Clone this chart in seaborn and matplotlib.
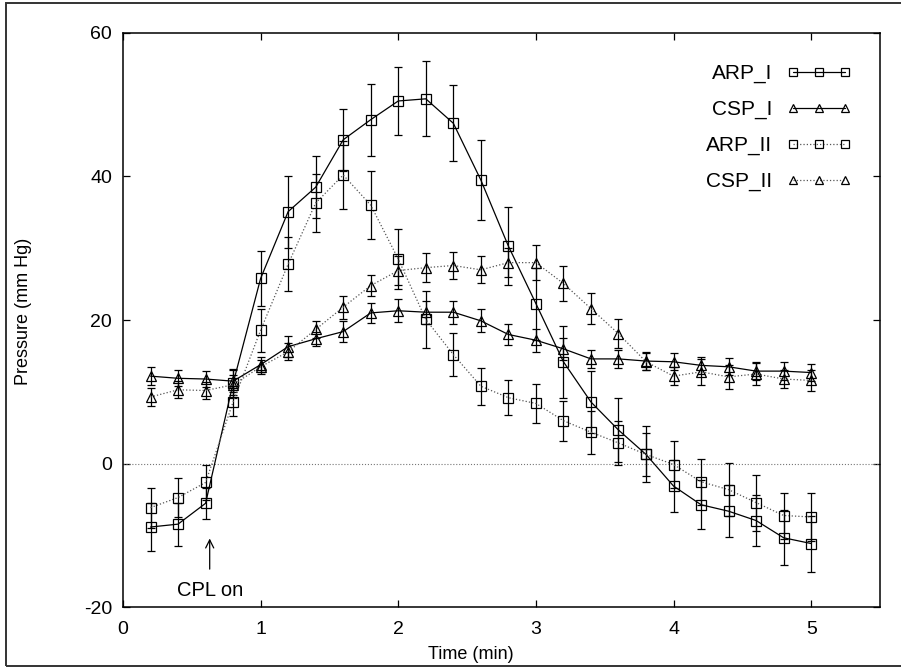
import pandas as pd
import matplotlib
matplotlib.use("Agg")
import matplotlib.pyplot as plt
from matplotlib.patches import Rectangle
import seaborn as sns

# time points (min)
time = [0.2, 0.4, 0.6, 0.8, 1.0, 1.2, 1.4, 1.6, 1.8, 2.0, 2.2, 2.4, 2.6,
        2.8, 3.0, 3.2, 3.4, 3.6, 3.8, 4.0, 4.2, 4.4, 4.6, 4.8, 5.0]

arp_1 = [-8.8, -8.4, -5.5, 11.2, 25.8, 35.1, 38.5, 45.1, 47.9, 50.5, 50.8, 47.4, 39.5,
         30.3, 22.3, 14.2, 8.6, 4.7, 1.3, -3.1, -5.7, -6.6, -7.9, -10.3, -11.1]
arp_1_err = [3.3, 3.0, 2.2, 2.0, 3.8, 5.0, 4.3, 4.3, 5.0, 4.7, 5.2, 5.3, 5.6,
             5.4, 5.0, 5.0, 4.3, 4.4, 3.9, 3.6, 3.4, 3.6, 3.5, 3.8, 3.9]

csp_1 = [12.2, 11.9, 11.8, 11.5, 13.8, 16.3, 17.4, 18.4, 21.0, 21.3, 21.1, 21.1, 19.9,
         18.0, 17.2, 16.0, 14.6, 14.6, 14.3, 14.2, 13.7, 13.5, 12.9, 12.9, 12.7]
csp_1_err = [1.3, 1.1, 1.1, 1.5, 1.0, 1.5, 1.0, 1.5, 1.4, 1.6, 1.6, 1.6, 1.6,
             1.4, 1.6, 1.5, 1.2, 1.2, 1.2, 1.2, 1.2, 1.2, 1.2, 1.2, 1.2]

arp_2 = [-6.1, -4.7, -2.6, 8.6, 18.6, 27.8, 36.3, 40.2, 36.0, 28.5, 20.1, 15.2, 10.8,
         9.2, 8.4, 6.0, 4.4, 2.9, 1.3, -0.1, -2.5, -3.6, -5.4, -7.2, -7.4]
arp_2_err = [2.8, 2.7, 2.5, 2.0, 3.0, 3.7, 4.0, 4.7, 4.7, 4.2, 4.0, 3.0, 2.6,
             2.4, 2.7, 2.8, 3.0, 3.0, 3.0, 3.3, 3.2, 3.7, 3.9, 3.2, 3.4]

csp_2 = [9.3, 10.3, 10.2, 11.0, 13.5, 15.6, 18.7, 21.8, 24.8, 26.9, 27.3, 27.6, 27.0,
         28.0, 28.0, 25.1, 21.6, 18.1, 14.2, 12.2, 12.8, 12.1, 12.5, 11.8, 11.6]
csp_2_err = [1.3, 1.2, 1.2, 1.4, 1.0, 1.2, 1.2, 1.6, 1.5, 2.0, 2.0, 1.9, 1.9,
             2.0, 2.4, 2.4, 2.2, 2.0, 1.2, 1.3, 1.8, 1.7, 1.5, 1.3, 1.5]

series = [
    ("ARP_I", arp_1, arp_1_err, "s", "-", "black"),
    ("CSP_I", csp_1, csp_1_err, "^", "-", "black"),
    ("ARP_II", arp_2, arp_2_err, "s", ":", "#555555"),
    ("CSP_II", csp_2, csp_2_err, "^", ":", "#555555"),
]

sns.set_theme(style="ticks")
plt.rcParams["font.family"] = ["Liberation Sans", "DejaVu Sans"]
plt.rcParams["axes.unicode_minus"] = False
plt.rcParams["text.color"] = "black"
plt.rcParams["axes.labelcolor"] = "black"

fig = plt.figure(figsize=(9.01, 6.68), dpi=100)
ax = fig.add_axes([0.1365, 0.0906, 0.8402, 0.8604])

# thin frame round the whole figure
fig.patches.append(Rectangle((6 / 901, 2 / 668), 1.0, 1 - 5 / 668,
                             transform=fig.transFigure, fill=False,
                             edgecolor="#333333", lw=1.4))

ax.axhline(0, color="#777777", lw=0.8, ls=":", zorder=1)

for name, vals, err, mk, ls, col in series:
    df = pd.DataFrame({"time": time, "p": vals})
    ax.errorbar(time, vals, yerr=err, fmt="none", ecolor="black",
                elinewidth=0.9, capsize=3.2, capthick=0.9, zorder=2)
    sns.lineplot(data=df, x="time", y="p", ax=ax, label=name, color=col,
                 linestyle=ls, linewidth=0.9, marker=mk, markersize=6.5,
                 markerfacecolor="none", markeredgecolor="black",
                 markeredgewidth=0.9, zorder=3)

ax.set_xlim(0, 5.5)
ax.set_ylim(-20, 60)
ax.set_xticks([0, 1, 2, 3, 4, 5])
ax.set_yticks([-20, 0, 20, 40, 60])
ax.tick_params(direction="in", length=5, width=0.9, top=True, right=True,
               labelsize=14, colors="black")
ax.tick_params(axis="x", pad=10)
ax.tick_params(axis="y", pad=8)
for s in ax.spines.values():
    s.set_linewidth(1.1)
    s.set_color("black")

ax.set_xlabel("Time (min)", fontsize=13)
ax.set_ylabel("Pressure (mm Hg)", fontsize=13)
ax.xaxis.set_label_coords(0.46, -0.067)
ax.yaxis.set_label_coords(-0.120, 0.516)

ax.annotate("CPL on", xy=(0.63, -10.4), xytext=(0.63, -17.6),
            ha="center", va="center", fontsize=14.5,
            arrowprops=dict(arrowstyle="->", lw=0.9, color="black",
                            shrinkA=6, shrinkB=0))

ax.legend(loc="upper right", frameon=False, markerfirst=False, numpoints=3,
          handlelength=3.1, labelspacing=0.8, fontsize=15, markerscale=0.8,
          bbox_to_anchor=(0.987, 0.978), handletextpad=0.7, borderpad=0.4)

fig.savefig("out.png", dpi=100)
